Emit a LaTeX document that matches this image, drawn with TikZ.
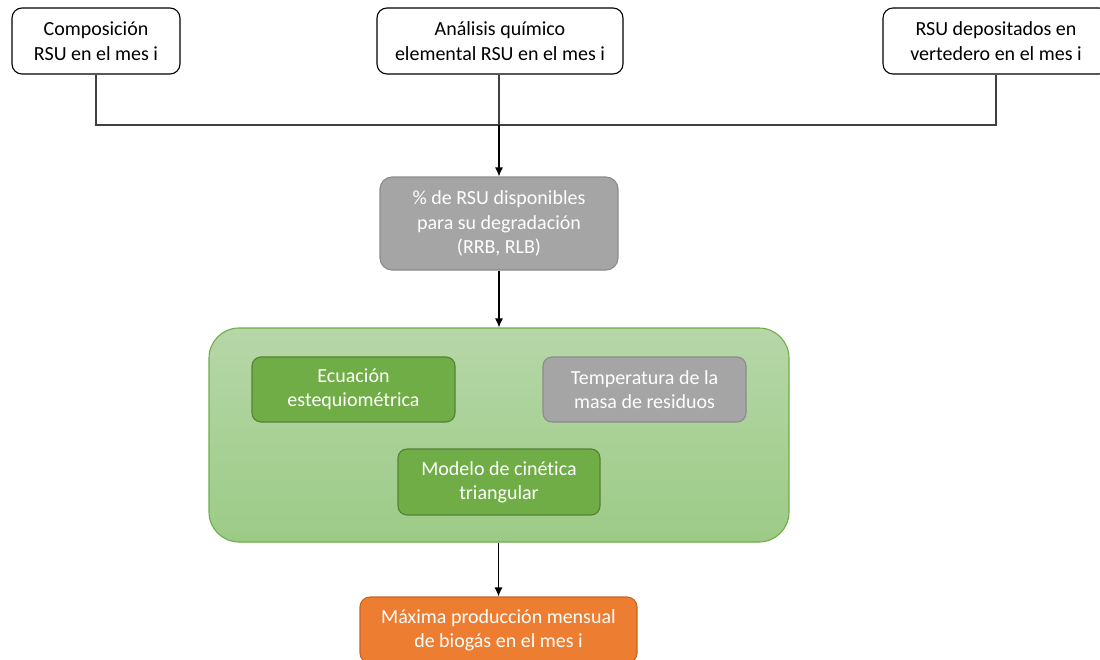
\documentclass[tikz,border=0pt]{standalone}
\usepackage{fontspec}
\setmainfont{Carlito}[RawFeature={-liga}]
\usetikzlibrary{arrows.meta}
\definecolor{greyfill}{HTML}{A5A5A5}
\definecolor{greyline}{HTML}{8C8C8C}
\definecolor{gtop}{HTML}{B6D7A8}
\definecolor{gbot}{HTML}{9CCB86}
\definecolor{gline}{HTML}{70AD47}
\definecolor{gfill}{HTML}{70AD47}
\definecolor{gdark}{HTML}{548235}
\definecolor{ofill}{HTML}{ED7D31}
\definecolor{oline}{HTML}{C9651F}
\definecolor{conn}{HTML}{404040}
\tikzset{
  txt/.style={font=\fontsize{20}{24.4}\selectfont, align=center, inner sep=0pt},
  whitebox/.style={txt, draw=black, fill=white, line width=1.1pt, rounded corners=10pt, text=black},
  greybox/.style={txt, draw=greyline, fill=greyfill, line width=1.1pt, rounded corners=12pt, text=white},
  innergreen/.style={txt, draw=gdark, fill=gfill, line width=1.1pt, rounded corners=9pt, text=white},
  innergrey/.style={txt, draw=greyline, fill=greyfill, line width=1.1pt, rounded corners=9pt, text=white},
  orangebox/.style={txt, draw=oline, fill=ofill, line width=1.1pt, rounded corners=10pt, text=white},
  bigbox/.style={draw=gline, line width=1.1pt, rounded corners=30pt, top color=gtop, bottom color=gbot, inner sep=0pt},
  conline/.style={draw=conn, line width=1.2pt},
  arr/.style={draw=black, line width=1.2pt, -{Latex[length=9pt,width=8pt]}}
}
\begin{document}
\begin{tikzpicture}[x=1pt,y=-1pt]
\useasboundingbox (0,0) rectangle (1100,659);
\node[whitebox, minimum width=168pt, minimum height=66pt] (b1) at (96,41) {Composición\\RSU en el mes i};
\node[whitebox, minimum width=246pt, minimum height=66pt] (b2) at (500,41) {Análisis químico\\elemental RSU en el mes i};
\node[whitebox, minimum width=226pt, minimum height=66pt] (b3) at (996,41) {RSU depositados en\\vertedero en el mes i};
\coordinate (J) at (499,125);
\node[greybox, minimum width=238pt, minimum height=93pt] (grey) at (499,223.5) {\% de RSU disponibles\\para su degradación\\(RRB, RLB)};
\node[bigbox, minimum width=580pt, minimum height=214pt] (big) at (499,435) {};
\node[innergreen, minimum width=203pt, minimum height=65pt] (eq) at (353.5,389.5) {Ecuación\\estequiométrica};
\node[innergrey, minimum width=203pt, minimum height=65pt] (temp) at (644.5,389.5) {Temperatura de la\\masa de residuos};
\node[innergreen, minimum width=202pt, minimum height=66pt] (model) at (499,482) {Modelo de cinética\\triangular};
\node[orangebox, minimum width=277pt, minimum height=66pt] (out) at (498.5,630) {Máxima producción mensual\\de biogás en el mes i};
\draw[conline] (b1.south) |- (J) -| (b3.south);
\draw[conline] (b2.south -| J) -- (J);
\draw[arr] (J) -- (grey.north);
\draw[arr] (grey.south) -- (big.north -| grey.south);
\draw[arr] (big.south -| out.north) -- (out.north);
\end{tikzpicture}
\end{document}
